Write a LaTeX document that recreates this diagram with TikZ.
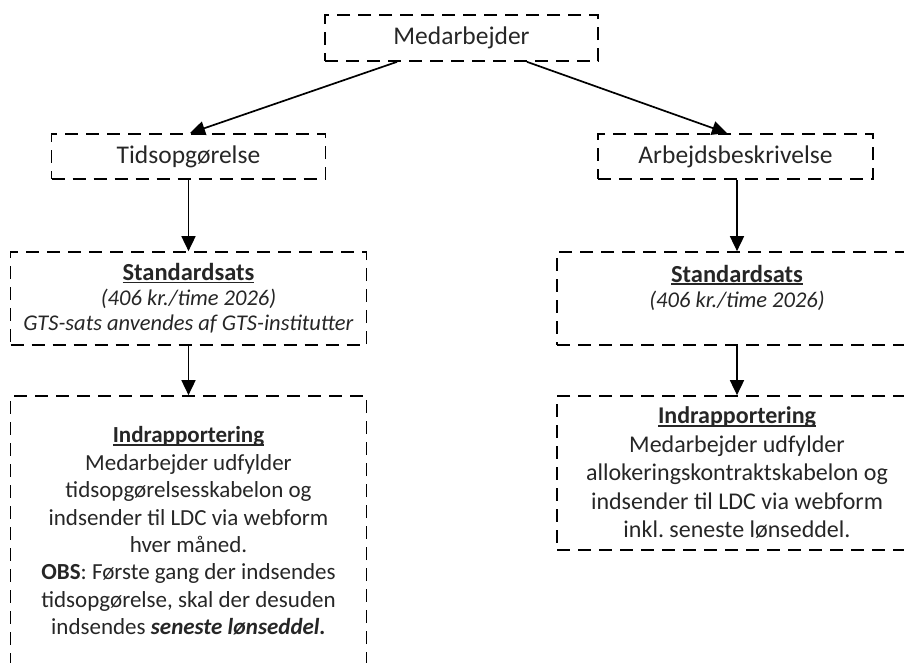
\documentclass[tikz,border=0pt]{standalone}
\usepackage{fontspec}
\setmainfont{Carlito}
\usetikzlibrary{arrows.meta,calc}
\frenchspacing
\definecolor{txt}{RGB}{38,38,38}
\newcommand{\myul}[1]{\setbox0\hbox{#1}\rlap{\rule[-2.6pt]{\wd0}{1.3pt}}\box0}
\tikzset{
  box/.style={draw=black, line width=1.7pt, dash pattern=on 13pt off 8pt,
    rectangle, align=center, text=txt, inner sep=0pt},
  arr/.style={draw=black, line width=1.7pt, -{Triangle[length=15pt,width=14pt]}},
  topfont/.style={font=\fontsize{25.5}{30}\selectfont},
  ratefont/.style={font=\fontsize{22.5}{25}\selectfont},
}
\begin{document}
\begin{tikzpicture}[x=1pt,y=-1pt]
\useasboundingbox (0,0) rectangle (904,662);
\clip (0,0) rectangle (904,662);

\node[box, topfont, minimum width=273pt, minimum height=46pt] (M) at (461.5,38) {Medarbejder};
\node[box, topfont, minimum width=274pt, minimum height=45pt] (T) at (188.5,156.5) {Tidsopgørelse};
\node[box, topfont, minimum width=275pt, minimum height=45pt] (A) at (735.5,156.5) {Arbejdsbeskrivelse};

\node[box, ratefont, minimum width=356pt, minimum height=93pt] (S1) at (188.5,298.5)
  {{\fontsize{24.5}{25}\selectfont\textbf{\myul{Standardsats}}}\\ \textit{(406 kr./time 2026)}\\ \textit{GTS-sats anvendes af GTS-institutter}};
\node[box, ratefont, minimum width=360pt, minimum height=93pt] (S2) at (737,298.5)
  {{\fontsize{24.5}{25}\selectfont\textbf{\myul{Standardsats}}}\\ \textit{(406 kr./time 2026)}\\ \mbox{}};

\node[box, font=\fontsize{23}{27.4}\selectfont, minimum width=356pt, minimum height=270pt] (I1) at (188.5,531)
  {\textbf{\myul{Indrapportering}}\\ Medarbejder udfylder\\ tidsopgørelsesskabelon og\\
   indsender til LDC via webform\\ hver måned.\\ \textbf{OBS}: Første gang der indsendes\\
   tidsopgørelse, skal der desuden\\ indsendes \textbf{\textit{seneste lønseddel.}}};
\node[box, font=\fontsize{24}{28.5}\selectfont, minimum width=360pt, minimum height=154pt] (I2) at (737,473)
  {\textbf{\myul{Indrapportering}}\\ Medarbejder udfylder\\ allokeringskontraktskabelon og\\
   indsender til LDC via webform\\ inkl. seneste lønseddel.};

\draw[arr] ($(M.south)+(-64.5,0)$) -- ($(T.north)+(1.5,0)$);
\draw[arr] ($(M.south)+(65.5,0)$) -- ($(A.north)+(-8.5,0)$);
\draw[arr] (T.south) -- (S1.north);
\draw[arr] (A.south -| S2.north) -- (S2.north);
\draw[arr] (S1.south) -- (I1.north);
\draw[arr] (S2.south) -- (I2.north);
\end{tikzpicture}
\end{document}
